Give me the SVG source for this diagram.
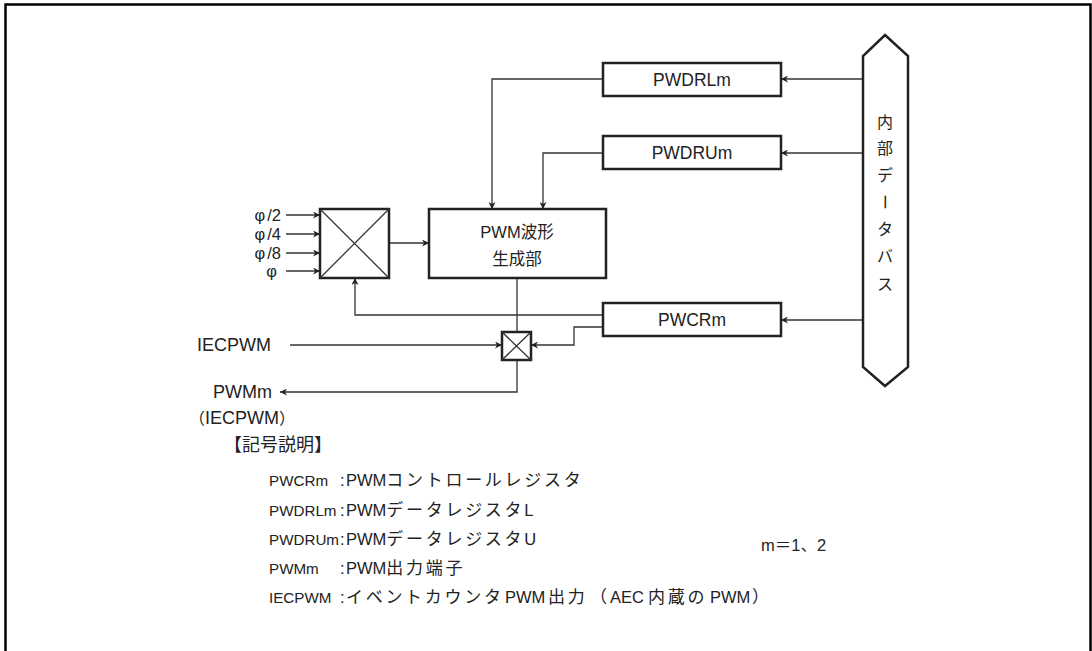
<svg xmlns="http://www.w3.org/2000/svg" width="1092" height="651" viewBox="0 0 1092 651">
<defs>
<style>
text{font-family:"Liberation Sans","Noto Sans CJK JP",sans-serif;fill:#222;}
.box{fill:#fff;stroke:#222;stroke-width:2.5;}
.ln{fill:none;stroke:#333;stroke-width:1.3;}
.arr{marker-end:url(#ah);}
.lbl{font-size:17.5px;text-anchor:middle;}
.gl{font-size:16.5px;text-anchor:middle;}
.in{font-size:18px;}
.phi{font-size:16.5px;}
.lg{font-size:16.5px;}
.nm{font-size:15.2px;}
.j{font-size:17px;letter-spacing:2.7px;}
.bus{font-size:16px;text-anchor:middle;}
</style>
<marker id="ah" viewBox="0 0 10 10" refX="10" refY="5" markerWidth="10" markerHeight="7" markerUnits="userSpaceOnUse" orient="auto">
<path d="M0,0 L10,5 L0,10 L3,5 z" fill="#222"/>
</marker>
</defs>
<rect width="1092" height="651" fill="#fff"/>
<path d="M5.5,651 V4.5 H1090.5 V651" fill="none" stroke="#000" stroke-width="2.5"/>

<g id="connectors">
<path class="ln arr" d="M863,79 H781"/>
<path class="ln arr" d="M863,153 H781"/>
<path class="ln arr" d="M863,320 H781"/>
<path class="ln arr" d="M603,79 H492 V209"/>
<path class="ln arr" d="M603,153 H543 V209"/>
<path class="ln arr" d="M389,243 H429"/>
<path class="ln arr" d="M286,215 H320"/>
<path class="ln arr" d="M286,234 H320"/>
<path class="ln arr" d="M286,253 H320"/>
<path class="ln arr" d="M286,271 H320"/>
<path class="ln arr" d="M603,315 H355 V278"/>
<path class="ln" d="M517,278 V332"/>
<path class="ln arr" d="M517,360 V392 H280"/>
<path class="ln arr" d="M290,345 H502"/>
<path class="ln arr" d="M603,327 H574 V345 H531"/>
</g>

<g id="bus">
<polygon class="box" points="885,35 908,56 908,367 885,386 863,367 863,56"/>
<text class="bus" x="885" y="128">内</text>
<text class="bus" x="885" y="154">部</text>
<text class="bus" x="885" y="181">デ</text>
<text class="bus" transform="rotate(90 885 202)" x="885" y="208">ー</text>
<text class="bus" x="885" y="235">タ</text>
<text class="bus" x="885" y="262">バ</text>
<text class="bus" x="885" y="290">ス</text>
</g>

<g id="pwdrl">
<rect class="box" x="603" y="63" width="178" height="33"/>
<text class="lbl" x="692" y="86">PWDRLm</text>
</g>
<g id="pwdru">
<rect class="box" x="603" y="136" width="178" height="33"/>
<text class="lbl" x="692" y="159">PWDRUm</text>
</g>
<g id="pwcr">
<rect class="box" x="603" y="303" width="178" height="33"/>
<text class="lbl" x="692" y="326">PWCRm</text>
</g>
<g id="gen">
<rect class="box" x="429" y="209" width="177" height="69"/>
<text class="gl" x="517" y="238">PWM波形</text>
<text class="gl" x="517" y="265">生成部</text>
</g>
<g id="mux">
<rect class="box" x="320" y="209" width="69" height="69"/>
<path class="ln" d="M320,209 L389,278 M389,209 L320,278"/>
</g>
<g id="sel">
<rect class="box" x="502" y="332" width="29" height="28"/>
<path class="ln" d="M502,332 L531,360 M531,332 L502,360"/>
</g>

<g id="inputs">
<text class="phi" x="281" y="221" text-anchor="end">φ<tspan dx="2">/2</tspan></text>
<text class="phi" x="281" y="240" text-anchor="end">φ<tspan dx="2">/4</tspan></text>
<text class="phi" x="281" y="259" text-anchor="end">φ<tspan dx="2">/8</tspan></text>
<text class="phi" x="277" y="277" text-anchor="end">φ</text>
<text class="in" x="197" y="351">IECPWM</text>
<text class="in" x="272" y="398" text-anchor="end">PWMm</text>
<text class="in" x="189" y="424"><tspan font-size="16">（</tspan>IECPWM<tspan font-size="16">）</tspan></text>
</g>

<g id="legend">
<text x="224" y="451" font-size="18">【記号説明】</text>
<text class="nm" x="269" y="486">PWCRm</text>
<text class="lg" x="340" y="486">:</text>
<text class="lg" x="346" y="486">PWM<tspan class="j">コントロールレジスタ</tspan></text>
<text class="nm" x="269" y="516">PWDRLm</text>
<text class="lg" x="340" y="516">:</text>
<text class="lg" x="346" y="516">PWM<tspan class="j">データレジスタ</tspan>L</text>
<text class="nm" x="269" y="545">PWDRUm</text>
<text class="lg" x="340" y="545">:</text>
<text class="lg" x="346" y="545">PWM<tspan class="j">データレジスタ</tspan>U</text>
<text class="nm" x="269" y="574">PWMm</text>
<text class="lg" x="340" y="574">:</text>
<text class="lg" x="346" y="574">PWM<tspan class="j">出力端子</tspan></text>
<text class="nm" x="269" y="603">IECPWM</text>
<text class="lg" x="340" y="603">:</text>
<text class="lg" x="346" y="603"><tspan class="j">イベントカウンタ</tspan><tspan x="505">PWM</tspan><tspan class="j" x="548">出力</tspan><tspan class="j" x="590">（</tspan><tspan x="610">AEC</tspan><tspan class="j" x="648">内蔵の</tspan><tspan x="710">PWM</tspan><tspan class="j" x="752">）</tspan></text>
<text class="lg" x="761" y="551">m＝1、2</text>
</g>
</svg>
